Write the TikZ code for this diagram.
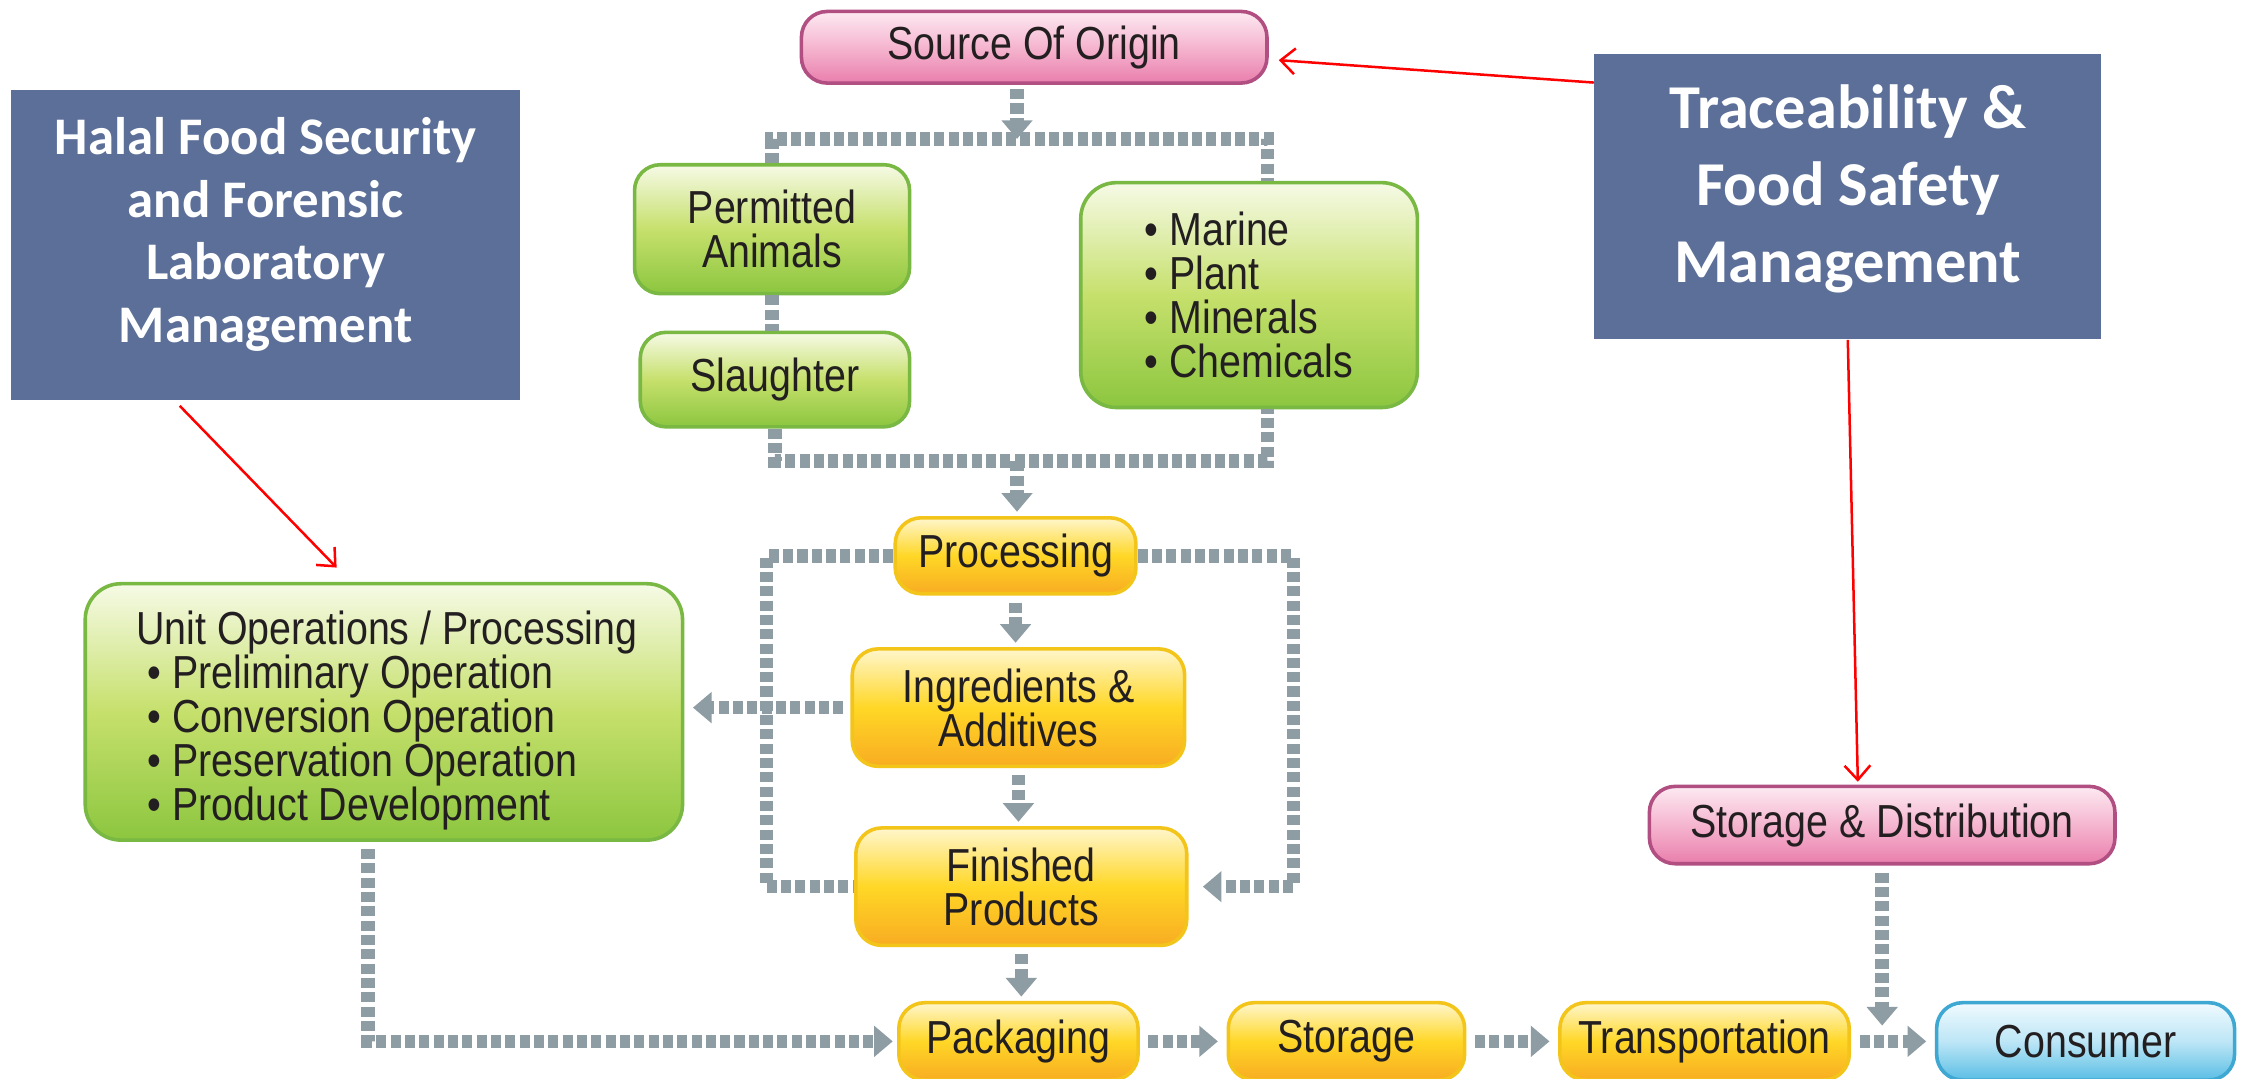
\documentclass[tikz,border=0pt]{standalone}
\usepackage{fontspec}
\usepackage{xcolor}
\usepackage{tikz}
\usetikzlibrary{arrows.meta,calc}

\newfontfamily\boxfont[FakeStretch=0.85]{Liberation Sans}
\newfontfamily\titlefont{Carlito}

\definecolor{titleblue}{HTML}{5C6F98}
\definecolor{flowgray}{HTML}{8E9CA4}
\definecolor{textdark}{HTML}{231F20}
\definecolor{greenline}{HTML}{78B843}
\definecolor{greentop}{HTML}{F6FAE6}
\definecolor{greenmid}{HTML}{C6E06C}
\definecolor{greenbot}{HTML}{8CC63F}
\definecolor{yellowline}{HTML}{F3C51A}
\definecolor{yellowtop}{HTML}{FFF6CC}
\definecolor{yellowmid}{HTML}{FFD726}
\definecolor{yellowbot}{HTML}{F8AC22}
\definecolor{pinkline}{HTML}{B14F82}
\definecolor{pinktop}{HTML}{FDEAF2}
\definecolor{pinkmid}{HTML}{F5B5CF}
\definecolor{pinkbot}{HTML}{E97EAC}
\definecolor{blueline}{HTML}{3FA8D2}
\definecolor{bluetop}{HTML}{F0FAFE}
\definecolor{bluemid}{HTML}{BDE6F6}
\definecolor{bluebot}{HTML}{5ABEE5}

\begin{document}
\begin{tikzpicture}[
  x=0.2mm,y=-0.2mm,
  stage/.style={rounded corners=3.6mm,line width=0.5mm,inner sep=0pt,align=center,text=textdark,font={\boxfont\fontsize{18.4}{17.5}\selectfont}},
  greenstage/.style={stage,draw=greenline,top color=greentop,bottom color=greenbot,middle color=greenmid},
  yellowstage/.style={stage,draw=yellowline,top color=yellowtop,bottom color=yellowbot,middle color=yellowmid},
  pinkstage/.style={stage,draw=pinkline,top color=pinktop,bottom color=pinkbot,middle color=pinkmid},
  bluestage/.style={stage,draw=blueline,top color=bluetop,bottom color=bluebot,middle color=bluemid},
  banner/.style={fill=titleblue,inner sep=0pt,align=center,text=white},
  flow/.style={draw=flowgray,line width=1.9mm,dash pattern=on 1.4mm off 0.6mm},
  flowtip/.style={flow,-{Triangle[width=4.2mm,length=2.6mm]}},
  redarrow/.style={draw=red,line width=0.35mm,-{Straight Barb[length=2mm,width=3.6mm]}}
]

\useasboundingbox (0,0) rectangle (1568,753);
\clip (0,0) rectangle (1568,753);
\fill[white] (0,0) rectangle (1568,753);

\node[pinkstage,minimum width=65mm,minimum height=10mm] (origin) at (722,33) {Source Of Origin};
\node[greenstage,minimum width=38.4mm,minimum height=18mm] (animals) at (539,160) {Permitted\\Animals};
\node[greenstage,minimum width=37.6mm,minimum height=13.2mm] (slaughter) at (541,265) {Slaughter};
\node[greenstage,rounded corners=5mm,minimum width=47mm,minimum height=31.4mm,align=left] (sources) at (872,206) {\textbullet\ Marine\\\textbullet\ Plant\\\textbullet\ Minerals\\\textbullet\ Chemicals};
\node[yellowstage,minimum width=33.6mm,minimum height=10.6mm] (processing) at (709,388) {Processing};
\node[yellowstage,minimum width=46.4mm,minimum height=16.4mm] (ingredients) at (711,494) {Ingredients \&\\Additives};
\node[yellowstage,minimum width=46.2mm,minimum height=16.4mm] (finished) at (713,619) {Finished\\Products};
\node[greenstage,rounded corners=5mm,minimum width=83.4mm,minimum height=35.8mm,align=left] (unitops) at (268,497) {\mbox{}\\[0.9mm]\hspace*{0.8mm}Unit Operations / Processing\\\hspace*{2.4mm}\textbullet\ Preliminary Operation\\\hspace*{2.4mm}\textbullet\ Conversion Operation\\\hspace*{2.4mm}\textbullet\ Preservation Operation\\\hspace*{2.4mm}\textbullet\ Product Development};
\node[yellowstage,minimum width=33.4mm,minimum height=10.8mm] (packaging) at (711,727) {Packaging};
\node[yellowstage,minimum width=33mm,minimum height=10.8mm] (storage) at (940,727) {Storage};
\node[yellowstage,minimum width=40.4mm,minimum height=10.8mm] (transport) at (1190,727) {Transportation};
\node[bluestage,minimum width=41.6mm,minimum height=10.8mm] (consumer) at (1456,727) {Consumer};
\node[pinkstage,minimum width=65mm,minimum height=10.8mm] (distribution) at (1314,576) {Storage \& Distribution};

\node[banner,minimum width=71mm,minimum height=43.2mm,font={\titlefont\bfseries\fontsize{21}{25}\selectfont}] (halal) at (185.5,171) {Halal Food Security\\and Forensic\\Laboratory\\Management\\[-4.6mm]\mbox{}};
\node[banner,minimum width=70.8mm,minimum height=39.8mm,font={\titlefont\bfseries\fontsize{24.8}{30.6}\selectfont}] (trace) at (1290,137.5) {Traceability \&\\Food Safety\\Management\\[-7mm]\mbox{}};

\coordinate (split) at (710,97);
\coordinate (join) at (710,322);
\coordinate (loopL) at (535,500);
\coordinate (loopR) at (903,500);
\coordinate (merge) at (1315,716);

\draw[flowtip] ($(origin.south)+(-12,3)$) -- (split);
\draw[flow] (animals.north) |- (split) -| ($(sources.north)+(13,0)$);
\draw[flow] (animals.south) -- (animals.south |- slaughter.north);
\draw[flow] (slaughter.south) |- (join) -| ($(sources.south)+(13,0)$);
\draw[flowtip,shorten >=0.6mm] (join) -- (join |- processing.north);
\draw[flow] (processing.west) -| (loopL) |- (finished.west);
\draw[flowtip,shorten >=2mm] (processing.east) -| (loopR) |- (finished.east);
\draw[flowtip,shorten <=1mm,shorten >=1.2mm] (ingredients.west) -- (ingredients.west -| unitops.east);
\draw[flowtip,shorten <=1mm,shorten >=0.6mm] (processing.south) -- (processing.south |- ingredients.north);
\draw[flowtip,shorten <=1mm,shorten >=0.6mm] (ingredients.south) -- (ingredients.south |- finished.north);
\draw[flowtip,shorten <=1mm,shorten >=0.6mm] (finished.south) -- (finished.south |- packaging.north);
\draw[flowtip,shorten <=1mm,shorten >=0.6mm] ($(unitops.south)+(-11,0)$) |- (packaging.west);
\draw[flowtip,shorten <=1.2mm,shorten >=1.2mm] (packaging) -- (storage);
\draw[flowtip,shorten <=1.2mm,shorten >=1.2mm] (storage) -- (transport);
\draw[flowtip,shorten <=1.2mm,shorten >=1.2mm] (transport) -- (consumer);
\draw[flowtip,shorten <=1mm] (distribution.south) -- (distribution.south |- merge);

\draw[redarrow] ($(halal.south)+(-60,4)$) -- ($(unitops.north)+(-33,-10)$);
\draw[redarrow] ($(trace.north west)+(0,20)$) -- ($(origin.east)+(7,9)$);
\draw[redarrow] (trace.south) -- ($(distribution.north)+(-17,-2)$);

\end{tikzpicture}
\end{document}
